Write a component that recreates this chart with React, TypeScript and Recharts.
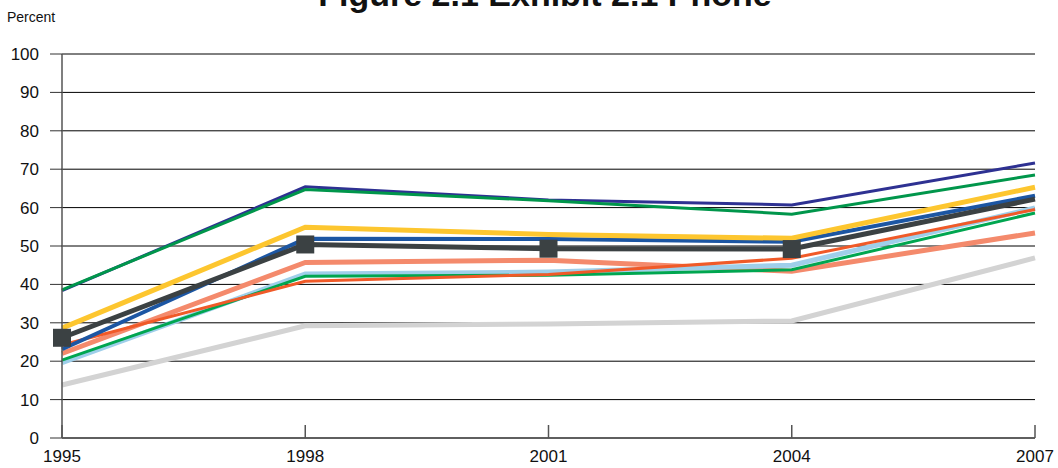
import React from 'react';
import { LineChart, Line, XAxis, YAxis, CartesianGrid } from 'recharts';

const years = ['1995', '1998', '2001', '2004', '2007'];
const yTicks = [0, 10, 20, 30, 40, 50, 60, 70, 80, 90, 100];

// values, one array per series
const lightGrey = [13.8, 29.2, 29.7, 30.5, 46.9];
const salmon = [22.0, 45.7, 46.3, 43.4, 53.4];
const lightBlue = [19.6, 42.7, 43.2, 45.0, 59.9];
const green2 = [20.3, 42.1, 42.4, 43.8, 58.6];
const red = [24.2, 40.8, 42.6, 46.8, 59.5];
const blue = [23.1, 51.9, 51.8, 51.1, 63.1];
const yellow = [28.6, 54.9, 53.0, 52.0, 65.3];
const darkGrey = [26.1, 50.4, 49.3, 49.2, 62.2];
const navy = [38.4, 65.4, 62.0, 60.7, 71.6];
const green1 = [38.6, 64.7, 61.8, 58.3, 68.5];

const series = [
  { key: 'lightGrey', values: lightGrey, color: '#d3d3d3', width: 5 },
  { key: 'salmon', values: salmon, color: '#f48a6c', width: 5 },
  { key: 'lightBlue', values: lightBlue, color: '#9fcfea', width: 5 },
  { key: 'green2', values: green2, color: '#00a650', width: 3 },
  { key: 'red', values: red, color: '#f05a28', width: 3 },
  { key: 'blue', values: blue, color: '#1c56a3', width: 4 },
  { key: 'yellow', values: yellow, color: '#fdc62f', width: 5 },
  { key: 'darkGrey', values: darkGrey, color: '#3b4143', width: 5 },
  { key: 'navy', values: navy, color: '#2e3192', width: 3 },
  { key: 'green1', values: green1, color: '#00964b', width: 3 },
];

const chartData = years.map((year, i) => {
  const row: any = { year };
  series.forEach((s) => { row[s.key] = s.values[i]; });
  return row;
});

const FONT = '"Liberation Sans", Arial, Helvetica, sans-serif';

function YearTick(props: any) {
  const { x, y, payload } = props;
  return (
    <g>
      <line x1={x} x2={x} y1={y - 13} y2={y} stroke="#555" strokeWidth={1.5} />
      <text x={x} y={y} dy={24} textAnchor="middle" fontSize={17} fontFamily={FONT} fill="#111">
        {payload.value}
      </text>
    </g>
  );
}

// square markers on every year but the last one
function SquareDot(props: any) {
  const { cx, cy, index } = props;
  if (index === years.length - 1) return <g key={`sq-${index}`} />;
  return <rect key={`sq-${index}`} x={cx - 9} y={cy - 9} width={18} height={18} fill="#3b4143" />;
}

export default function App() {
  return (
    <div style={{ position: 'absolute', left: 0, top: 0, width: 1058, height: 468, overflow: 'hidden', background: '#fff', fontFamily: FONT }}>
      <div style={{ position: 'absolute', left: 0, width: 1090, top: -23, textAlign: 'center', fontSize: 34, lineHeight: '34px', fontWeight: 'bold', color: '#111' }}>
        Figure 2.1 Exhibit 2.1 Phone
      </div>
      <div style={{ position: 'absolute', left: 7, top: 9, fontSize: 14, lineHeight: '16px', color: '#111' }}>Percent</div>
      <LineChart width={1058} height={468} data={chartData} margin={{ top: 54, right: 23, bottom: 0, left: 0 }}>
        <CartesianGrid stroke="#000" vertical={false} />
        <XAxis
          dataKey="year"
          height={30}
          tick={<YearTick />}
          tickLine={false}
          tickSize={0}
          tickMargin={0}
          axisLine={{ stroke: '#555', strokeWidth: 1.5 }}
          interval={0}
        />
        <YAxis
          width={62}
          domain={[0, 100]}
          ticks={yTicks}
          interval={0}
          tickSize={12}
          tickMargin={11}
          tickLine={{ stroke: '#333' }}
          axisLine={{ stroke: '#555', strokeWidth: 1.5 }}
          tick={{ fontSize: 17, fill: '#111', fontFamily: FONT }}
        />
        {series.map((s) => (
          <Line
            key={s.key}
            dataKey={s.key}
            type="linear"
            stroke={s.color}
            strokeWidth={s.width}
            dot={s.key === 'darkGrey' ? <SquareDot /> : false}
            activeDot={false}
            isAnimationActive={false}
          />
        ))}
      </LineChart>
    </div>
  );
}
